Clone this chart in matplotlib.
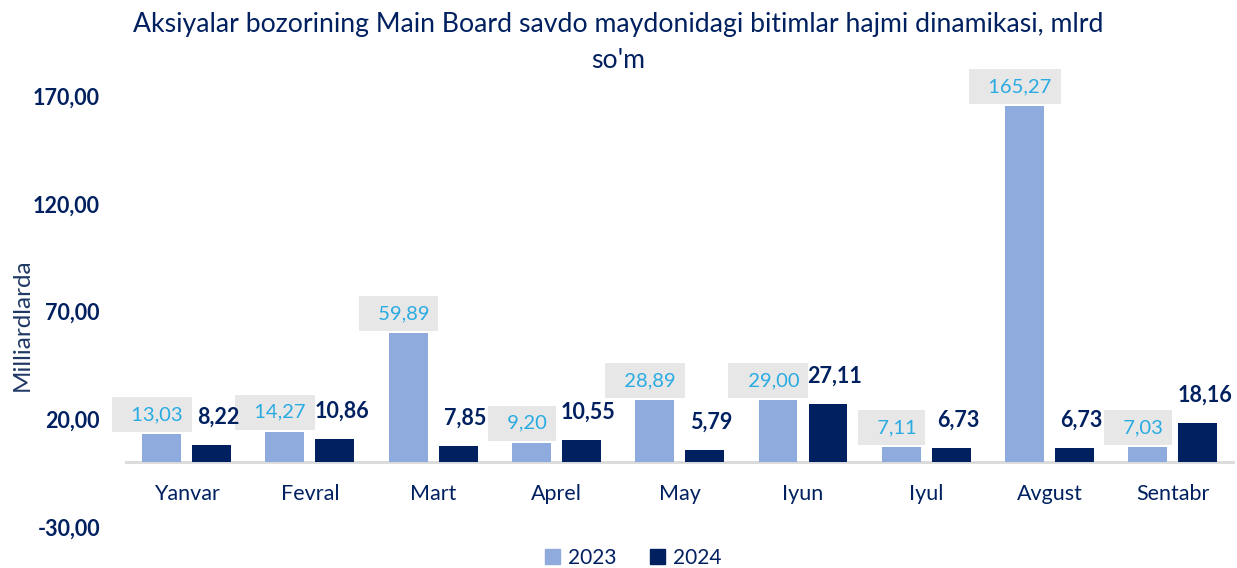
import numpy as np
import matplotlib
matplotlib.use("Agg")
import matplotlib.pyplot as plt
from matplotlib.patches import Patch

# ============ Du lieu ============
months = ['Yanvar', 'Fevral', 'Mart', 'Aprel', 'May', 'Iyun', 'Iyul', 'Avgust', 'Sentabr']
vals_2023 = [13.03, 14.27, 59.89, 9.20, 28.89, 29.00, 7.11, 165.27, 7.03]
vals_2024 = [8.22, 10.86, 7.85, 10.55, 5.79, 27.11, 6.73, 6.73, 18.16]
y_ticks = [-30, 20, 70, 120, 170]

# ============ Mau sac ============
C23 = '#8FAADC'
C24 = '#002060'
NAVY = '#002060'
LBL23 = '#29ABE2'
BOX = '#E7E7E7'

plt.rcParams['font.family'] = ['Lato', 'DejaVu Sans']


def fmt(v):
    return f'{v:.2f}'.replace('.', ',')


fig = plt.figure(figsize=(12.37, 5.68), dpi=100)
ax = fig.add_axes([0.101, 0.072, 0.897, 0.759])

x = np.arange(len(months))
w = 0.315
gap = 0.09
ax.bar(x - (w + gap) / 2, vals_2023, w, color=C23, zorder=2)
ax.bar(x + (w + gap) / 2, vals_2024, w, color=C24, zorder=2)

ax.set_xlim(-0.5, len(months) - 0.5)
ax.set_ylim(-30, 170)
ax.set_yticks(y_ticks)
ax.set_yticklabels([fmt(v) for v in y_ticks], fontsize=15.5, fontweight='bold', color=NAVY)
ax.tick_params(axis='y', length=0, pad=18)
ax.set_xticks([])
for s in ax.spines.values():
    s.set_visible(False)
ax.axhline(0, color='#D9D9D9', lw=2, zorder=1)

fig.text(22 / 1237, 1 - 325 / 568, 'Milliardlarda', rotation=90, ha='center', va='center',
         fontsize=17.5, color='#1F3864')

# --- nhan danh muc ngay duoi truc 0 ---
for i, m in enumerate(months):
    ax.annotate(m, (i, 0), xytext=(0, -23), textcoords='offset points',
                ha='center', va='center', fontsize=15.5, color=NAVY)

# --- data labels ---
for i, (a, b) in enumerate(zip(vals_2023, vals_2024)):
    ax.annotate('  ' + fmt(a), (i - (w + gap) / 2, a), xytext=(-7, 14),
                textcoords='offset points', ha='center', va='center', fontsize=14.5,
                color=LBL23, zorder=3,
                bbox=dict(boxstyle='square,pad=0.45', fc=BOX, ec='none'))
    ax.annotate(fmt(b), (i + (w + gap) / 2, b), xytext=(5, 20), textcoords='offset points',
                ha='center', va='center', fontsize=15.5, color=NAVY, fontweight='bold', zorder=4)

fig.text(0.5, 0.957, "Aksiyalar bozorining Main Board savdo maydonidagi bitimlar hajmi dinamikasi, mlrd",
         ha='center', va='center', fontsize=19.2, color=NAVY)
fig.text(0.5, 0.893, "so'm", ha='center', va='center', fontsize=19.2, color=NAVY)

handles = [Patch(color=C23, label='2023'), Patch(color=C24, label='2024')]
fig.legend(handles=handles, loc='center', bbox_to_anchor=(0.512, 0.018), ncol=2,
           frameon=False, fontsize=15, handlelength=0.7, handleheight=0.7,
           columnspacing=1.6, handletextpad=0.4, labelcolor=NAVY)

fig.savefig('out.png', dpi=100)
